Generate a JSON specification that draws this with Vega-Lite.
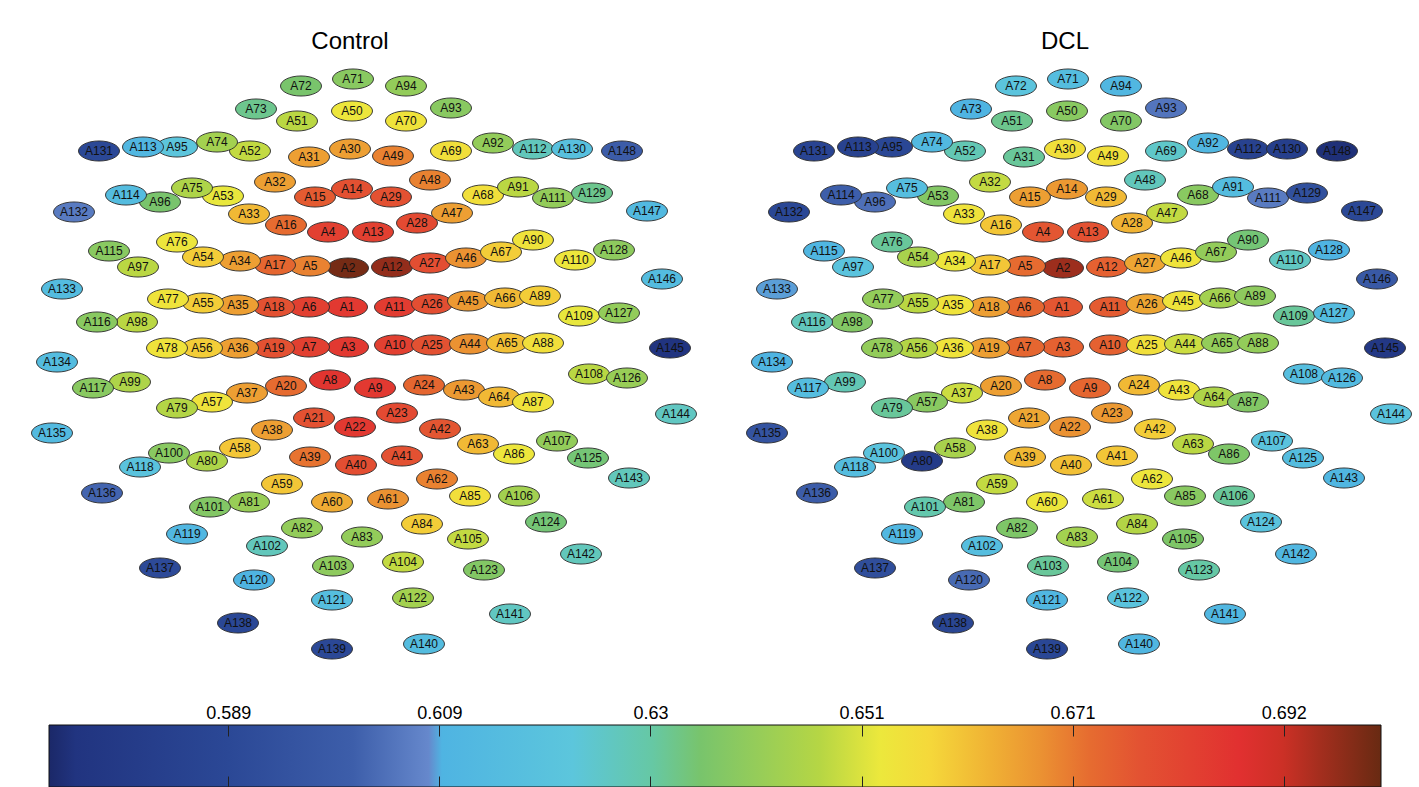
{
  "$schema": "https://vega.github.io/schema/vega-lite/v6.json",
  "padding": 0,
  "background": "white",
  "config": {"view": {"stroke": null}, "axis": {"grid": false}, "font": "Liberation Sans"},
  "datasets": {
    "sensors": [
{"s":"A1","x":347,"y":307,"c":0.685,"d":0.677},
{"s":"A2","x":348,"y":268,"c":0.700,"d":0.696},
{"s":"A3","x":348,"y":347,"c":0.685,"d":0.675},
{"s":"A4","x":328,"y":232,"c":0.683,"d":0.677},
{"s":"A5","x":310,"y":266,"c":0.670,"d":0.673},
{"s":"A6","x":309,"y":307,"c":0.683,"d":0.674},
{"s":"A7","x":309,"y":347,"c":0.683,"d":0.674},
{"s":"A8","x":330,"y":380,"c":0.686,"d":0.673},
{"s":"A9","x":375,"y":388,"c":0.685,"d":0.674},
{"s":"A10","x":395,"y":345,"c":0.683,"d":0.675},
{"s":"A11","x":395,"y":307,"c":0.684,"d":0.676},
{"s":"A12","x":392,"y":267,"c":0.697,"d":0.675},
{"s":"A13","x":373,"y":232,"c":0.683,"d":0.678},
{"s":"A14","x":352,"y":189,"c":0.678,"d":0.667},
{"s":"A15","x":315,"y":197,"c":0.676,"d":0.666},
{"s":"A16","x":286,"y":225,"c":0.673,"d":0.660},
{"s":"A17","x":275,"y":265,"c":0.674,"d":0.660},
{"s":"A18","x":274,"y":307,"c":0.678,"d":0.666},
{"s":"A19","x":274,"y":348,"c":0.678,"d":0.666},
{"s":"A20","x":286,"y":386,"c":0.673,"d":0.666},
{"s":"A21","x":314,"y":418,"c":0.678,"d":0.665},
{"s":"A22","x":355,"y":427,"c":0.685,"d":0.668},
{"s":"A23","x":397,"y":413,"c":0.680,"d":0.667},
{"s":"A24","x":424,"y":385,"c":0.674,"d":0.662},
{"s":"A25","x":432,"y":345,"c":0.678,"d":0.655},
{"s":"A26","x":432,"y":304,"c":0.679,"d":0.665},
{"s":"A27","x":430,"y":263,"c":0.679,"d":0.665},
{"s":"A28","x":417,"y":223,"c":0.680,"d":0.663},
{"s":"A29","x":391,"y":197,"c":0.678,"d":0.662},
{"s":"A30","x":350,"y":149,"c":0.666,"d":0.655},
{"s":"A31","x":309,"y":157,"c":0.666,"d":0.631},
{"s":"A32","x":275,"y":182,"c":0.666,"d":0.648},
{"s":"A33","x":249,"y":214,"c":0.662,"d":0.654},
{"s":"A34","x":240,"y":261,"c":0.666,"d":0.653},
{"s":"A35","x":238,"y":305,"c":0.666,"d":0.654},
{"s":"A36","x":238,"y":348,"c":0.666,"d":0.654},
{"s":"A37","x":247,"y":393,"c":0.666,"d":0.649},
{"s":"A38","x":272,"y":430,"c":0.666,"d":0.654},
{"s":"A39","x":310,"y":457,"c":0.672,"d":0.662},
{"s":"A40","x":356,"y":465,"c":0.679,"d":0.661},
{"s":"A41","x":402,"y":456,"c":0.678,"d":0.660},
{"s":"A42","x":440,"y":429,"c":0.677,"d":0.659},
{"s":"A43","x":464,"y":390,"c":0.667,"d":0.654},
{"s":"A44","x":470,"y":344,"c":0.668,"d":0.649},
{"s":"A45","x":468,"y":301,"c":0.667,"d":0.654},
{"s":"A46","x":466,"y":258,"c":0.668,"d":0.654},
{"s":"A47","x":452,"y":213,"c":0.666,"d":0.648},
{"s":"A48","x":430,"y":180,"c":0.670,"d":0.627},
{"s":"A49","x":393,"y":156,"c":0.670,"d":0.655},
{"s":"A50","x":352,"y":111,"c":0.653,"d":0.638},
{"s":"A51","x":297,"y":121,"c":0.647,"d":0.632},
{"s":"A52","x":250,"y":151,"c":0.648,"d":0.628},
{"s":"A53","x":223,"y":196,"c":0.652,"d":0.637},
{"s":"A54","x":203,"y":257,"c":0.659,"d":0.644},
{"s":"A55","x":203,"y":303,"c":0.659,"d":0.647},
{"s":"A56","x":202,"y":348,"c":0.659,"d":0.646},
{"s":"A57","x":212,"y":402,"c":0.654,"d":0.638},
{"s":"A58","x":240,"y":448,"c":0.660,"d":0.644},
{"s":"A59","x":282,"y":484,"c":0.660,"d":0.648},
{"s":"A60","x":332,"y":502,"c":0.664,"d":0.653},
{"s":"A61","x":388,"y":499,"c":0.668,"d":0.649},
{"s":"A62","x":437,"y":479,"c":0.670,"d":0.653},
{"s":"A63","x":478,"y":444,"c":0.662,"d":0.647},
{"s":"A64","x":499,"y":397,"c":0.662,"d":0.645},
{"s":"A65","x":507,"y":343,"c":0.661,"d":0.640},
{"s":"A66","x":505,"y":298,"c":0.662,"d":0.643},
{"s":"A67","x":501,"y":252,"c":0.659,"d":0.640},
{"s":"A68","x":483,"y":195,"c":0.655,"d":0.638},
{"s":"A69","x":451,"y":151,"c":0.655,"d":0.625},
{"s":"A70","x":406,"y":121,"c":0.654,"d":0.637},
{"s":"A71","x":353,"y":79,"c":0.638,"d":0.616},
{"s":"A72","x":301,"y":86,"c":0.635,"d":0.621},
{"s":"A73","x":256,"y":109,"c":0.632,"d":0.610},
{"s":"A74","x":217,"y":142,"c":0.643,"d":0.613},
{"s":"A75","x":192,"y":188,"c":0.645,"d":0.617},
{"s":"A76","x":177,"y":242,"c":0.653,"d":0.631},
{"s":"A77","x":168,"y":299,"c":0.654,"d":0.640},
{"s":"A78","x":167,"y":348,"c":0.654,"d":0.640},
{"s":"A79","x":177,"y":408,"c":0.646,"d":0.631},
{"s":"A80","x":207,"y":461,"c":0.645,"d":0.579},
{"s":"A81","x":249,"y":502,"c":0.641,"d":0.636},
{"s":"A82","x":302,"y":528,"c":0.640,"d":0.636},
{"s":"A83","x":362,"y":537,"c":0.640,"d":0.643},
{"s":"A84","x":422,"y":524,"c":0.659,"d":0.646},
{"s":"A85","x":470,"y":496,"c":0.655,"d":0.638},
{"s":"A86","x":514,"y":454,"c":0.653,"d":0.636},
{"s":"A87","x":533,"y":402,"c":0.654,"d":0.637},
{"s":"A88","x":543,"y":343,"c":0.655,"d":0.640},
{"s":"A89","x":540,"y":296,"c":0.659,"d":0.639},
{"s":"A90","x":533,"y":240,"c":0.654,"d":0.634},
{"s":"A91","x":518,"y":187,"c":0.647,"d":0.615},
{"s":"A92","x":493,"y":143,"c":0.640,"d":0.612},
{"s":"A93","x":451,"y":108,"c":0.638,"d":0.605},
{"s":"A94","x":406,"y":86,"c":0.640,"d":0.612},
{"s":"A95","x":177,"y":147,"c":0.622,"d":0.588},
{"s":"A96","x":160,"y":202,"c":0.635,"d":0.604},
{"s":"A97","x":138,"y":267,"c":0.647,"d":0.620},
{"s":"A98","x":137,"y":322,"c":0.647,"d":0.637},
{"s":"A99","x":130,"y":382,"c":0.645,"d":0.628},
{"s":"A100","x":169,"y":453,"c":0.638,"d":0.620},
{"s":"A101","x":210,"y":507,"c":0.637,"d":0.629},
{"s":"A102","x":267,"y":546,"c":0.627,"d":0.617},
{"s":"A103","x":333,"y":566,"c":0.639,"d":0.631},
{"s":"A104","x":403,"y":562,"c":0.648,"d":0.634},
{"s":"A105","x":468,"y":539,"c":0.648,"d":0.636},
{"s":"A106","x":519,"y":496,"c":0.643,"d":0.631},
{"s":"A107","x":557,"y":441,"c":0.640,"d":0.620},
{"s":"A108","x":589,"y":374,"c":0.647,"d":0.617},
{"s":"A109","x":579,"y":316,"c":0.652,"d":0.631},
{"s":"A110","x":575,"y":260,"c":0.653,"d":0.626},
{"s":"A111","x":553,"y":198,"c":0.640,"d":0.606},
{"s":"A112","x":533,"y":149,"c":0.627,"d":0.584},
{"s":"A113","x":143,"y":147,"c":0.612,"d":0.584},
{"s":"A114","x":126,"y":195,"c":0.615,"d":0.601},
{"s":"A115","x":109,"y":251,"c":0.638,"d":0.611},
{"s":"A116","x":97,"y":322,"c":0.638,"d":0.627},
{"s":"A117","x":93,"y":388,"c":0.638,"d":0.616},
{"s":"A118","x":140,"y":467,"c":0.620,"d":0.616},
{"s":"A119","x":187,"y":534,"c":0.612,"d":0.612},
{"s":"A120","x":254,"y":580,"c":0.610,"d":0.603},
{"s":"A121","x":332,"y":600,"c":0.617,"d":0.612},
{"s":"A122","x":413,"y":598,"c":0.643,"d":0.620},
{"s":"A123","x":484,"y":570,"c":0.637,"d":0.630},
{"s":"A124","x":546,"y":522,"c":0.634,"d":0.620},
{"s":"A125","x":588,"y":458,"c":0.634,"d":0.615},
{"s":"A126","x":627,"y":378,"c":0.641,"d":0.614},
{"s":"A127","x":619,"y":313,"c":0.640,"d":0.615},
{"s":"A128","x":614,"y":250,"c":0.639,"d":0.610},
{"s":"A129","x":592,"y":193,"c":0.632,"d":0.593},
{"s":"A130","x":572,"y":149,"c":0.618,"d":0.582},
{"s":"A131","x":99,"y":151,"c":0.589,"d":0.586},
{"s":"A132","x":74,"y":212,"c":0.606,"d":0.588},
{"s":"A133","x":62,"y":289,"c":0.615,"d":0.609},
{"s":"A134","x":57,"y":362,"c":0.615,"d":0.610},
{"s":"A135","x":52,"y":433,"c":0.614,"d":0.595},
{"s":"A136","x":102,"y":493,"c":0.602,"d":0.600},
{"s":"A137","x":160,"y":568,"c":0.590,"d":0.592},
{"s":"A138","x":238,"y":623,"c":0.588,"d":0.587},
{"s":"A139","x":332,"y":649,"c":0.589,"d":0.588},
{"s":"A140","x":424,"y":644,"c":0.615,"d":0.611},
{"s":"A141","x":510,"y":614,"c":0.626,"d":0.612},
{"s":"A142","x":581,"y":554,"c":0.627,"d":0.612},
{"s":"A143","x":629,"y":478,"c":0.627,"d":0.611},
{"s":"A144","x":676,"y":414,"c":0.626,"d":0.620},
{"s":"A145","x":670,"y":348,"c":0.574,"d":0.577},
{"s":"A146","x":662,"y":279,"c":0.615,"d":0.598},
{"s":"A147","x":647,"y":211,"c":0.613,"d":0.589},
{"s":"A148","x":622,"y":151,"c":0.600,"d":0.573}
    ],
    "bar": [{"lo": 0.5713, "hi": 0.7013}]
  },
  "spacing": 24,
  "vconcat": [
    {
      "spacing": 15,
      "hconcat": [
        {
          "width": 700, "height": 680,
          "title": {"text": "Control", "fontSize": 24, "fontWeight": "normal", "font": "Liberation Sans", "color": "black", "anchor": "middle", "baseline": "alphabetic", "offset": -73},
          "data": {"name": "sensors"},
          "layer": [
            {
              "mark": {"type": "point", "shape": "M-1,0C-1,-0.2706,-0.5523,-0.49,0,-0.49C0.5523,-0.49,1,-0.2706,1,0C1,0.2706,0.5523,0.49,0,0.49C-0.5523,0.49,-1,0.2706,-1,0Z", "filled": true, "size": 1681, "opacity": 1, "stroke": "#2a2a2a", "strokeWidth": 0.9},
              "encoding": {
                "x": {"field": "x", "type": "quantitative", "scale": {"domain": [0, 700], "nice": false, "zero": false}, "axis": null},
                "y": {"field": "y", "type": "quantitative", "scale": {"domain": [0, 680], "nice": false, "zero": false, "reverse": true}, "axis": null},
                "color": {"field": "c", "type": "quantitative", "legend": null, "scale": {"interpolate": "rgb", "clamp": true,
                  "domain": [0.5713, 0.5739, 0.58885, 0.60094, 0.60835, 0.60965, 0.62239, 0.63019, 0.63487, 0.64657, 0.65242, 0.65723, 0.66308, 0.66802, 0.67283, 0.67777, 0.68752, 0.69168, 0.69532, 0.7013],
                  "range": ["#1b2868", "#213480", "#2b4896", "#3d5eaa", "#6688cc", "#4fb4e2", "#5cc6dc", "#66c8a4", "#78c46c", "#b6d644", "#ece83c", "#f5d83a", "#f0b234", "#eb9232", "#e66c30", "#e35232", "#e13030", "#cc3026", "#a42e1e", "#682a12"]}}
              }
            },
            {
              "mark": {"type": "text", "fontSize": 12, "font": "Liberation Sans", "color": "#111111"},
              "encoding": {
                "x": {"field": "x", "type": "quantitative"},
                "y": {"field": "y", "type": "quantitative"},
                "text": {"field": "s"}
              }
            }
          ]
        },
        {
          "width": 700, "height": 680,
          "title": {"text": "DCL", "fontSize": 24, "fontWeight": "normal", "font": "Liberation Sans", "color": "black", "anchor": "middle", "baseline": "alphabetic", "offset": -73},
          "data": {"name": "sensors"},
          "layer": [
            {
              "mark": {"type": "point", "shape": "M-1,0C-1,-0.2706,-0.5523,-0.49,0,-0.49C0.5523,-0.49,1,-0.2706,1,0C1,0.2706,0.5523,0.49,0,0.49C-0.5523,0.49,-1,0.2706,-1,0Z", "filled": true, "size": 1681, "opacity": 1, "stroke": "#2a2a2a", "strokeWidth": 0.9},
              "encoding": {
                "x": {"field": "x", "type": "quantitative", "scale": {"domain": [0, 700], "nice": false, "zero": false}, "axis": null},
                "y": {"field": "y", "type": "quantitative", "scale": {"domain": [0, 680], "nice": false, "zero": false, "reverse": true}, "axis": null},
                "color": {"field": "d", "type": "quantitative", "legend": null, "scale": {"interpolate": "rgb", "clamp": true,
                  "domain": [0.5713, 0.5739, 0.58885, 0.60094, 0.60835, 0.60965, 0.62239, 0.63019, 0.63487, 0.64657, 0.65242, 0.65723, 0.66308, 0.66802, 0.67283, 0.67777, 0.68752, 0.69168, 0.69532, 0.7013],
                  "range": ["#1b2868", "#213480", "#2b4896", "#3d5eaa", "#6688cc", "#4fb4e2", "#5cc6dc", "#66c8a4", "#78c46c", "#b6d644", "#ece83c", "#f5d83a", "#f0b234", "#eb9232", "#e66c30", "#e35232", "#e13030", "#cc3026", "#a42e1e", "#682a12"]}}
              }
            },
            {
              "mark": {"type": "text", "fontSize": 12, "font": "Liberation Sans", "color": "#111111"},
              "encoding": {
                "x": {"field": "x", "type": "quantitative"},
                "y": {"field": "y", "type": "quantitative"},
                "text": {"field": "s"}
              }
            }
          ]
        }
      ]
    },
    {
      "width": 1419, "height": 62,
      "data": {"name": "bar"},
      "mark": {"type": "rect", "stroke": "#111111", "strokeWidth": 1, "fill": {"gradient": "linear", "x1": 0, "y1": 0, "x2": 1, "y2": 0, "stops": [
        {"offset": 0, "color": "#1b2868"}, {"offset": 0.02, "color": "#213480"}, {"offset": 0.135, "color": "#2b4896"}, {"offset": 0.228, "color": "#3d5eaa"}, {"offset": 0.285, "color": "#6688cc"}, {"offset": 0.295, "color": "#4fb4e2"}, {"offset": 0.393, "color": "#5cc6dc"}, {"offset": 0.453, "color": "#66c8a4"}, {"offset": 0.489, "color": "#78c46c"}, {"offset": 0.579, "color": "#b6d644"}, {"offset": 0.624, "color": "#ece83c"}, {"offset": 0.661, "color": "#f5d83a"}, {"offset": 0.706, "color": "#f0b234"}, {"offset": 0.744, "color": "#eb9232"}, {"offset": 0.781, "color": "#e66c30"}, {"offset": 0.819, "color": "#e35232"}, {"offset": 0.894, "color": "#e13030"}, {"offset": 0.926, "color": "#cc3026"}, {"offset": 0.954, "color": "#a42e1e"}, {"offset": 1, "color": "#682a12"}]}},
      "encoding": {
        "x": {"field": "lo", "type": "quantitative", "scale": {"domain": [0.5713, 0.7013], "range": [49, 1381], "nice": false, "zero": false},
          "axis": {"orient": "top", "values": [0.5888, 0.6094, 0.63, 0.6506, 0.6712, 0.6918], "format": ".3~f", "labelFontSize": 18, "labelFont": "Liberation Sans", "labelColor": "black", "ticks": false, "labelPadding": 3, "domain": false, "title": null, "grid": true, "gridColor": "#222222", "gridOpacity": 1, "gridWidth": 1, "gridDash": [11, 40, 11], "zindex": 1}},
        "x2": {"field": "hi"}
      }
    }
  ]
}
